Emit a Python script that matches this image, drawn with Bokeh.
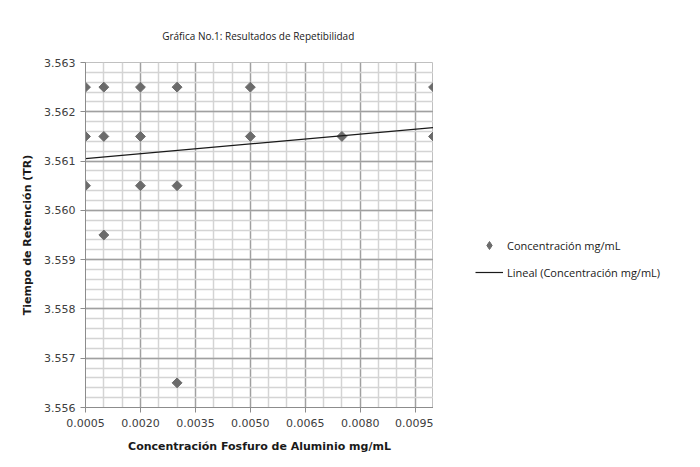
import math
from bokeh.plotting import figure
from bokeh.layouts import row
from bokeh.models import (ColumnDataSource, Legend, LegendItem, FixedTicker,
                          Range1d, PrintfTickFormatter)
from bokeh.embed import file_html
from bokeh.resources import INLINE

# ---- data ----
conc = [0.0005, 0.0005, 0.0005,
        0.0010, 0.0010, 0.0010,
        0.0020, 0.0020, 0.0020,
        0.0030, 0.0030, 0.0030,
        0.0050, 0.0050,
        0.0075,
        0.0100, 0.0100]
tiempo = [3.5625, 3.5615, 3.5605,
          3.5625, 3.5615, 3.5595,
          3.5625, 3.5615, 3.5605,
          3.5625, 3.5605, 3.5565,
          3.5625, 3.5615,
          3.5615,
          3.5625, 3.5615]
trend_x = [0.0005, 0.0100]
trend_y = [3.56105, 3.56168]

x_major = [0.0005, 0.0020, 0.0035, 0.0050, 0.0065, 0.0080, 0.0095]
x_labels = ["0.0005", "0.0020", "0.0035", "0.0050", "0.0065", "0.0080", "0.0095"]
x_minor = [round(0.0005 + i * 0.0005, 4) for i in range(20)]
y_major = [3.556, 3.557, 3.558, 3.559, 3.560, 3.561, 3.562, 3.563]
y_minor = [round(3.556 + i * 0.0002, 4) for i in range(36)]

legend_labels = ["Concentración mg/mL", "Lineal (Concentración mg/mL)"]

FH = 345
TOP, BOT = 62, 44
p = figure(frame_width=348, frame_height=FH, output_backend="svg", toolbar_location=None,
           x_range=Range1d(0.0005, 0.0100), y_range=Range1d(3.556, 3.563),
           min_border_left=85, min_border_right=0,
           min_border_top=TOP, min_border_bottom=BOT)
p.outline_line_color = "#c0c0c0"
p.background_fill_color = "white"
p.border_fill_color = "white"

# title
p.title.text = "Gráfica No.1:  Resultados de Repetibilidad"
p.title.align = "center"
p.title.text_font = "Open Sans"
p.title.text_font_size = "10px"
p.title.text_font_style = "normal"
p.title.text_color = "#1a1a1a"
p.title.standoff = 40

# grids
p.xgrid.ticker = FixedTicker(ticks=x_major, minor_ticks=x_minor)
p.ygrid.ticker = FixedTicker(ticks=y_major, minor_ticks=y_minor)
for g in (p.xgrid, p.ygrid):
    g.grid_line_color = "#a0a0a0"
    g.grid_line_width = 1.3
    g.minor_grid_line_color = "#d4d4d4"
    g.minor_grid_line_width = 1.5

# axes
p.xaxis.ticker = FixedTicker(ticks=x_major)
p.xaxis.major_label_overrides = dict(zip(x_major, x_labels))
p.yaxis.ticker = FixedTicker(ticks=y_major)
p.yaxis.formatter = PrintfTickFormatter(format="%.3f")
for ax in (p.xaxis, p.yaxis):
    ax.axis_line_color = "#8c8c8c"
    ax.major_tick_line_color = "#8c8c8c"
    ax.major_tick_out = 5
    ax.major_tick_in = 0
    ax.minor_tick_line_color = None
    ax.major_label_text_font = "DejaVu Sans"
    ax.major_label_text_font_size = "11px"
    ax.major_label_text_color = "#404040"
    ax.axis_label_text_font = "DejaVu Sans"
    ax.axis_label_text_font_size = "11px"
    ax.axis_label_text_font_style = "bold"
    ax.axis_label_text_color = "#1a1a1a"
p.xaxis.axis_label = "Concentración Fosfuro de Aluminio mg/mL"
p.yaxis.axis_label = "Tiempo de Retención (TR)"
p.xaxis.major_label_standoff = 6
p.yaxis.major_label_standoff = 5
p.xaxis.axis_label_standoff = 10
p.yaxis.axis_label_standoff = 7

src = ColumnDataSource(dict(x=conc, y=tiempo))
pts = p.scatter("x", "y", source=src, marker="square", size=7,
                angle=math.pi / 4,
                fill_color="#6b6b6b", line_color="#6b6b6b")
ln = p.line(trend_x, trend_y, line_color="#1a1a1a", line_width=1.2)

# legend panel (separate figure to the right, same height); its renderers use
# the same data, which lies outside this panel's ranges, so only the legend shows
H = TOP + FH + BOT
lg = figure(width=251, height=H, output_backend="svg", toolbar_location=None,
            x_range=Range1d(0, 1), y_range=Range1d(0, 1),
            min_border=0, x_axis_type=None, y_axis_type=None)
lg.outline_line_color = None
lg.xgrid.visible = False
lg.ygrid.visible = False
lpts = lg.scatter("x", "y", source=src, marker="diamond", size=11,
                  fill_color="#6b6b6b", line_color="#6b6b6b")
lln = lg.line(trend_x, trend_y, line_color="#1a1a1a", line_width=1.2)
legend = Legend(items=[LegendItem(label=legend_labels[0], renderers=[lpts]),
                       LegendItem(label=legend_labels[1], renderers=[lln])],
                location=(42, 121))
legend.border_line_color = None
legend.background_fill_alpha = 0
legend.label_text_font = "Open Sans"
legend.label_text_font_size = "11px"
legend.label_text_color = "#1a1a1a"
legend.glyph_width = 28
legend.spacing = 7
legend.margin = 0
legend.padding = 10
legend.label_standoff = 4
lg.add_layout(legend)

open("out.html", "w").write(file_html(row(p, lg), INLINE))
